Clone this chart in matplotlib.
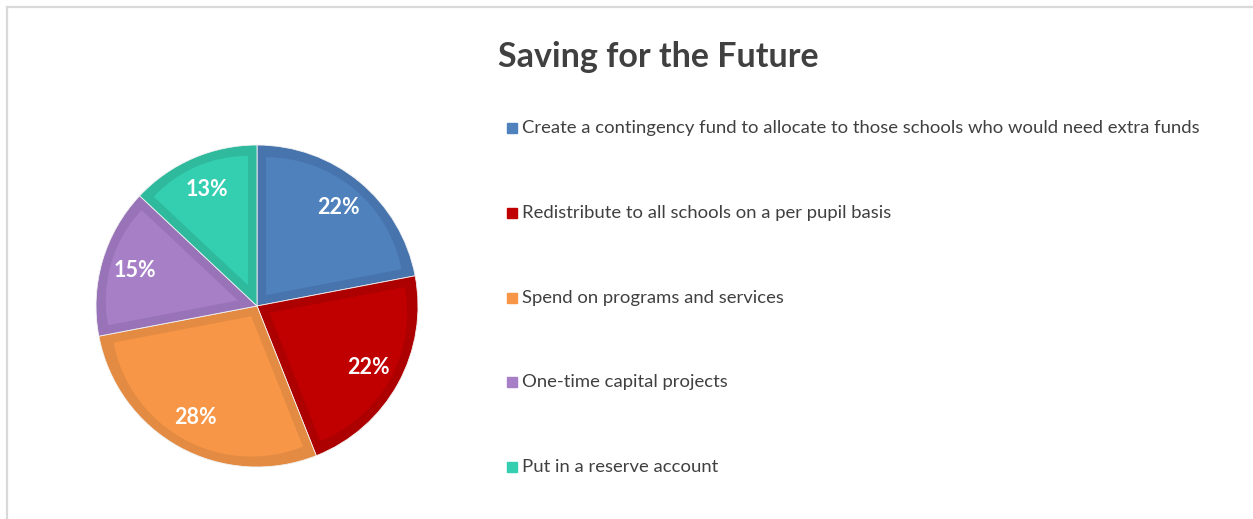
import numpy as np
import matplotlib.pyplot as plt
from matplotlib.patches import Rectangle, Wedge

categories = [
    "Create a contingency fund to allocate to those schools who would need extra funds",
    "Redistribute to all schools on a per pupil basis",
    "Spend on programs and services",
    "One-time capital projects",
    "Put in a reserve account",
]
shares = [22, 22, 28, 15, 13]
fills = ["#4f81bd", "#c00000", "#f79646", "#a77fc7", "#33cfb0"]
rims = ["#4874ad", "#ad0000", "#e38b42", "#9873b7", "#2fba9e"]

plt.rcParams["font.family"] = ["Lato", "DejaVu Sans"]

W, H = 1253, 519
fig = plt.figure(figsize=(W / 100, H / 100), dpi=100)

# light frame on left and top
fig.add_artist(plt.Line2D([7 / W, 7 / W], [0, 1 - 7 / H], color="#d9d9d9", lw=1.6))
fig.add_artist(plt.Line2D([7 / W, 1], [1 - 7 / H, 1 - 7 / H], color="#d9d9d9", lw=1.6))

# pie axes placed in pixels
cx, cy, r = 257, 306, 161
ax = fig.add_axes([(cx - r) / W, (H - cy - r) / H, 2 * r / W, 2 * r / H])
wedges, texts, autotexts = ax.pie(
    shares, colors=rims, startangle=90, counterclock=False,
    autopct="%1.0f%%", pctdistance=0.79, radius=1,
    wedgeprops=dict(linewidth=0.6, edgecolor="#f2f2f2"),
    textprops=dict(color="white", fontsize=15.5, fontweight="bold"),
)

# lighter inner face, inset from every side of the slice (bevel look)
d = 0.056
for w, fc in zip(wedges, fills):
    t1, t2 = w.theta1, w.theta2
    half = np.radians(t2 - t1) / 2
    mid = np.radians((t1 + t2) / 2)
    off = d / np.sin(half) if half < np.pi / 2 else d
    c = (off * np.cos(mid), off * np.sin(mid))
    inner = Wedge(c, 1 - d - off, t1, t2, facecolor=fc, edgecolor="none", zorder=w.get_zorder() + 0.1)
    ax.add_patch(inner)
for t in autotexts:
    t.set_zorder(5)

ax.set_xlim(-1, 1)
ax.set_ylim(-1, 1)
ax.set_aspect("equal")
ax.axis("off")

fig.text(658 / W, 1 - 57 / H, "Saving for the Future", ha="center", va="center",
         fontsize=24.5, fontweight="bold", color="#404040")

# legend
y0, step = 128, 84.8
for i, (lab, col) in enumerate(zip(categories, fills)):
    y = y0 + i * step
    fig.add_artist(Rectangle((507 / W, 1 - (y + 5) / H), 10 / W, 10 / H,
                             transform=fig.transFigure, color=col))
    fig.text(522 / W, 1 - y / H, lab, ha="left", va="center",
             fontsize=13.3, color="#404040")

fig.savefig("out.png", dpi=100)
